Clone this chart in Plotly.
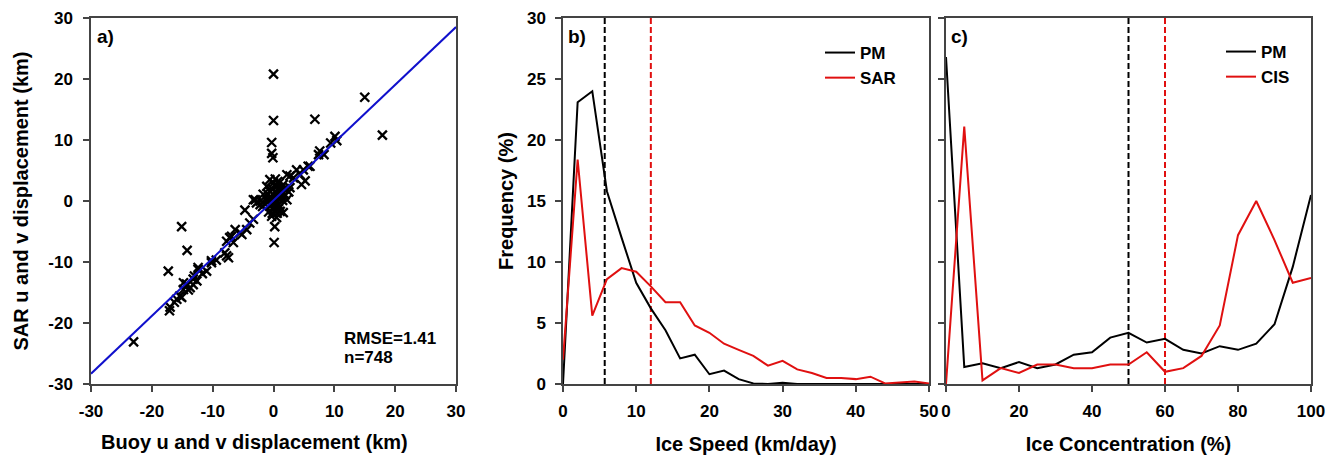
import plotly.graph_objects as go

# ---------------- data ----------------
# Panel a: buoy vs SAR displacement (km)
buoy_disp = [0.0, 15.0, 6.8, 0.0, 17.9, -0.3, -0.3, -0.1, -15.1, -14.2, -17.3, -23.0, 0.2, 0.1, -4.7,
             10.1, 10.4, 9.4, 7.6, 7.4, 8.3, 5.7, 4.9, 4.4, 3.8, 2.7, 2.2, 5.2, 4.6, 3.3, 2.7, 6.0,
             -0.6, 0.0, -1.1, 0.5, 1.1, -0.6, -1.7, 0.2, 1.3, -1.1, -2.2, -0.3, 0.8, -3.3, -2.8, 0.0,
             1.1, -0.3, 0.5, 2.2, 1.6, 1.6, 0.4, -0.5, 0.9, 0.3, -0.2, 0.7, 1.9, 1.0, -1.4, 0.6, -0.8,
             2.5, -1.8, 0.1, -0.9, 1.4,
             0.2, 0.6, -0.4, 1.2, 0.0, 0.8, -0.7, 0.3, 1.5, -0.2, 0.9, 0.4, -1.0, 0.6, 1.8,
             -3.0, -2.2, -3.9, -3.3, -4.4, -5.2, -6.3, -7.2, -6.6, -5.5, -6.9, -7.7, -7.7, -8.0, -7.4,
             -10.2, -11.0, -12.4, -13.2, -14.3, -14.8, -15.1, -17.0, -17.1, -15.9, -15.4, -14.8, -14.3,
             -13.7, -13.2, -12.6, -12.4, -10.2, -16.3, -14.0, -13.0, -9.4, -11.7]
sar_disp = [20.8, 17.0, 13.4, 13.2, 10.8, 9.6, 7.8, 7.1, -4.2, -8.1, -11.5, -23.1, -4.2, -6.8, -1.5,
            10.6, 9.9, 9.5, 8.2, 7.6, 7.6, 5.7, 5.1, 4.3, 5.1, 4.1, 4.3, 3.3, 2.7, 3.8, 2.2, 5.7,
            3.5, 3.0, 2.4, 2.4, 1.9, 1.6, 1.1, 0.8, 1.1, 0.2, 0.0, -0.3, -0.6, 0.2, -0.3, -1.4,
            -1.7, -2.5, -2.7, 0.2, 2.7, -1.9, 0.3, -0.8, 0.4, 1.5, 2.0, 3.2, 1.0, -0.9, -0.5, -2.0, -1.8,
            1.5, -0.9, 0.0, 1.1, 0.6,
            2.6, 1.8, 0.7, 2.2, -1.0, -1.3, 0.5, 3.6, 0.1, -2.0, 2.9, -0.2, -0.2, 1.2, 2.0,
            0.2, -0.6, -3.6, -3.0, -4.7, -5.5, -4.7, -6.0, -6.8, -5.2, -5.8, -6.6, -9.0, -8.5, -9.3,
            -9.8, -11.5, -11.2, -12.8, -13.6, -14.5, -15.8, -17.4, -18.0, -16.1, -15.6, -13.4, -13.9,
            -14.2, -13.7, -13.1, -10.9, -10.1, -16.6, -14.6, -12.3, -9.7, -11.9]
fit_slope = 0.947
fit_intercept = 0.1
fit_x = [-30, 30]
disp_ticks = [-30, -20, -10, 0, 10, 20, 30]
disp_ticktext = ["-30", "-20", "-10", "0", "10", "20", "30"]
rmse_text = "RMSE=1.41"
n_text = "n=748"

# Panel b: ice speed frequency
speed_bins = [0, 2, 4, 6, 8, 10, 12, 14, 16, 18, 20, 22, 24, 26, 28, 30, 32, 34, 36, 38, 40, 42, 44, 46, 48, 50]
speed_pm = [0.0, 23.1, 24.0, 15.8, 12.0, 8.3, 6.2, 4.4, 2.1, 2.4, 0.8, 1.1, 0.4, 0.05, 0.0, 0.1,
            0.0, 0.0, 0.0, 0.0, 0.0, 0.0, 0.0, 0.0, 0.0, 0.0]
speed_sar = [2.0, 18.4, 5.6, 8.6, 9.5, 9.2, 8.0, 6.7, 6.7, 4.8, 4.2, 3.3, 2.8, 2.3, 1.5, 1.9,
             1.2, 0.9, 0.5, 0.5, 0.4, 0.6, 0.05, 0.15, 0.2, 0.05]
speed_mean_pm = 5.7
speed_mean_sar = 12.0
speed_ticks = [0, 10, 20, 30, 40, 50]

# Panel c: ice concentration frequency
conc_bins = [0, 5, 10, 15, 20, 25, 30, 35, 40, 45, 50, 55, 60, 65, 70, 75, 80, 85, 90, 95, 100]
conc_pm = [26.8, 1.4, 1.7, 1.3, 1.8, 1.3, 1.6, 2.4, 2.6, 3.8, 4.2, 3.4, 3.7, 2.8, 2.5, 3.1,
           2.8, 3.3, 4.9, 9.6, 15.5]
conc_cis = [0.0, 21.1, 0.3, 1.3, 0.9, 1.6, 1.6, 1.3, 1.3, 1.6, 1.6, 2.6, 1.0, 1.3, 2.3, 4.8,
            12.2, 15.0, 11.8, 8.3, 8.7]
conc_mean_pm = 50
conc_mean_cis = 60
conc_ticks = [0, 20, 40, 60, 80, 100]

freq_range = [0, 30]
freq_ticks = [0, 5, 10, 15, 20, 25, 30]

# ---------------- styling ----------------
FONT = "Liberation Sans, Arial, sans-serif"
AX = "#444444"
RED = "#e01010"
BLUE = "#1010cc"

fig = go.Figure()

# panel a
fig.add_trace(go.Scatter(x=buoy_disp, y=sar_disp, mode="markers", xaxis="x", yaxis="y",
                         marker=dict(symbol="x-thin", size=9, line=dict(width=2.3, color="black")),
                         showlegend=False))
fit_y = [fit_slope * v + fit_intercept for v in fit_x]
fig.add_trace(go.Scatter(x=fit_x, y=fit_y, mode="lines", xaxis="x", yaxis="y",
                         line=dict(color=BLUE, width=2), showlegend=False))

# panel b
fig.add_trace(go.Scatter(x=[speed_mean_pm] * 2, y=freq_range, mode="lines", xaxis="x2", yaxis="y2",
                         line=dict(color="black", width=2, dash="6px,3px"), showlegend=False))
fig.add_trace(go.Scatter(x=[speed_mean_sar] * 2, y=freq_range, mode="lines", xaxis="x2", yaxis="y2",
                         line=dict(color=RED, width=2, dash="6px,3px"), showlegend=False))
fig.add_trace(go.Scatter(x=speed_bins, y=speed_pm, mode="lines", name="PM", xaxis="x2", yaxis="y2",
                         line=dict(color="black", width=2), legend="legend"))
fig.add_trace(go.Scatter(x=speed_bins, y=speed_sar, mode="lines", name="SAR", xaxis="x2", yaxis="y2",
                         line=dict(color=RED, width=2), legend="legend"))

# panel c
fig.add_trace(go.Scatter(x=[conc_mean_pm] * 2, y=freq_range, mode="lines", xaxis="x3", yaxis="y3",
                         line=dict(color="black", width=2, dash="6px,3px"), showlegend=False))
fig.add_trace(go.Scatter(x=[conc_mean_cis] * 2, y=freq_range, mode="lines", xaxis="x3", yaxis="y3",
                         line=dict(color=RED, width=2, dash="6px,3px"), showlegend=False))
fig.add_trace(go.Scatter(x=conc_bins, y=conc_pm, mode="lines", name="PM", xaxis="x3", yaxis="y3",
                         line=dict(color="black", width=2), legend="legend2"))
fig.add_trace(go.Scatter(x=conc_bins, y=conc_cis, mode="lines", name="CIS", xaxis="x3", yaxis="y3",
                         line=dict(color=RED, width=2), legend="legend2"))

L, R, T, B = 91, 25, 18, 79
W, H = 1336, 463
pw, ph = W - L - R, H - T - B


def px2x(px):
    return (px - L) / pw


def py2y(py):
    return (H - B - py) / ph


dom_a = [px2x(91), px2x(456)]
dom_b = [px2x(563), px2x(929)]
dom_c = [px2x(946), px2x(1311)]

tickfont = dict(family=FONT, size=17, color="black", weight="bold")
titlefont = dict(family=FONT, size=20, color="black", weight="bold")


def main_axis(**kw):
    d = dict(showline=True, linecolor=AX, linewidth=1.5, mirror=True, ticks="outside",
             ticklen=6, tickwidth=1.5, tickcolor=AX, showgrid=False, zeroline=False,
             tickfont=tickfont, automargin=False)
    d.update(kw)
    return d


def inner_axis(**kw):
    d = dict(showline=False, ticks="inside", ticklen=6, tickwidth=1.5, tickcolor=AX,
             showgrid=False, zeroline=False, showticklabels=False, automargin=False)
    d.update(kw)
    return d


fig.update_layout(
    width=W, height=H,
    margin=dict(l=L, r=R, t=T, b=B),
    paper_bgcolor="white", plot_bgcolor="white",
    font=dict(family=FONT, size=16, color="black", weight="bold"),
    xaxis=main_axis(domain=dom_a, anchor="y", range=[-30, 30], tickvals=disp_ticks,
                    ticktext=disp_ticktext, ticklabelstandoff=5),
    yaxis=main_axis(domain=[0, 1], anchor="x", range=[-30, 30], tickvals=disp_ticks,
                    ticktext=disp_ticktext, ticklabelstandoff=7,
                    title=dict(text="SAR u and v displacement (km)", font=titlefont, standoff=14)),
    xaxis2=main_axis(domain=dom_b, anchor="y2", range=[0, 50], tickvals=speed_ticks,
                     ticklabelstandoff=5,
                     title=dict(text="Ice Speed (km/day)", font=titlefont, standoff=17)),
    yaxis2=main_axis(domain=[0, 1], anchor="x2", range=freq_range, tickvals=freq_ticks,
                     ticklabelstandoff=6,
                     title=dict(text="Frequency (%)", font=titlefont, standoff=8)),
    xaxis3=main_axis(domain=dom_c, anchor="y3", range=[0, 100], tickvals=conc_ticks,
                     ticklabelstandoff=5,
                     title=dict(text="Ice Concentration (%)", font=titlefont, standoff=17)),
    yaxis3=main_axis(domain=[0, 1], anchor="x3", range=freq_range, tickvals=freq_ticks,
                     showticklabels=False),
    # overlay axes to give crossing tick marks
    xaxis4=inner_axis(overlaying="x", anchor="y", range=[-30, 30], tickvals=disp_ticks),
    yaxis4=inner_axis(overlaying="y", anchor="x", range=[-30, 30], tickvals=disp_ticks),
    xaxis5=inner_axis(overlaying="x2", anchor="y2", range=[0, 50], tickvals=speed_ticks),
    yaxis5=inner_axis(overlaying="y2", anchor="x2", range=freq_range, tickvals=freq_ticks),
    xaxis6=inner_axis(overlaying="x3", anchor="y3", range=[0, 100], tickvals=conc_ticks),
    yaxis6=inner_axis(overlaying="y3", anchor="x3", range=freq_range, tickvals=freq_ticks),
    legend=dict(x=px2x(820), y=py2y(35), xanchor="left", yanchor="top", bgcolor="rgba(0,0,0,0)",
                font=dict(family=FONT, size=17, color="black", weight="bold"), tracegroupgap=0),
    legend2=dict(x=px2x(1221), y=py2y(34), xanchor="left", yanchor="top", bgcolor="rgba(0,0,0,0)",
                 font=dict(family=FONT, size=17, color="black", weight="bold"), tracegroupgap=0),
    annotations=[
        dict(text="Buoy u and v displacement (km)", x=px2x(254), y=py2y(442), xref="paper",
             yref="paper", xanchor="center", yanchor="middle", showarrow=False, font=titlefont),
        dict(text="a)", x=px2x(95), y=py2y(36), xref="paper", yref="paper", xanchor="left",
             yanchor="middle", showarrow=False, font=dict(family=FONT, size=19, weight="bold")),
        dict(text="b)", x=px2x(566), y=py2y(36), xref="paper", yref="paper", xanchor="left",
             yanchor="middle", showarrow=False, font=dict(family=FONT, size=19, weight="bold")),
        dict(text="c)", x=px2x(949), y=py2y(36), xref="paper", yref="paper", xanchor="left",
             yanchor="middle", showarrow=False, font=dict(family=FONT, size=19, weight="bold")),
        dict(text=rmse_text, x=px2x(342), y=py2y(338), xref="paper", yref="paper", xanchor="left",
             yanchor="middle", showarrow=False, font=dict(family=FONT, size=17, weight="bold")),
        dict(text=n_text, x=px2x(342), y=py2y(357), xref="paper", yref="paper", xanchor="left",
             yanchor="middle", showarrow=False, font=dict(family=FONT, size=17, weight="bold")),
    ],
)

fig.write_html("out.html", config={"displayModeBar": False},
               post_script="document.body.style.margin='0';")
